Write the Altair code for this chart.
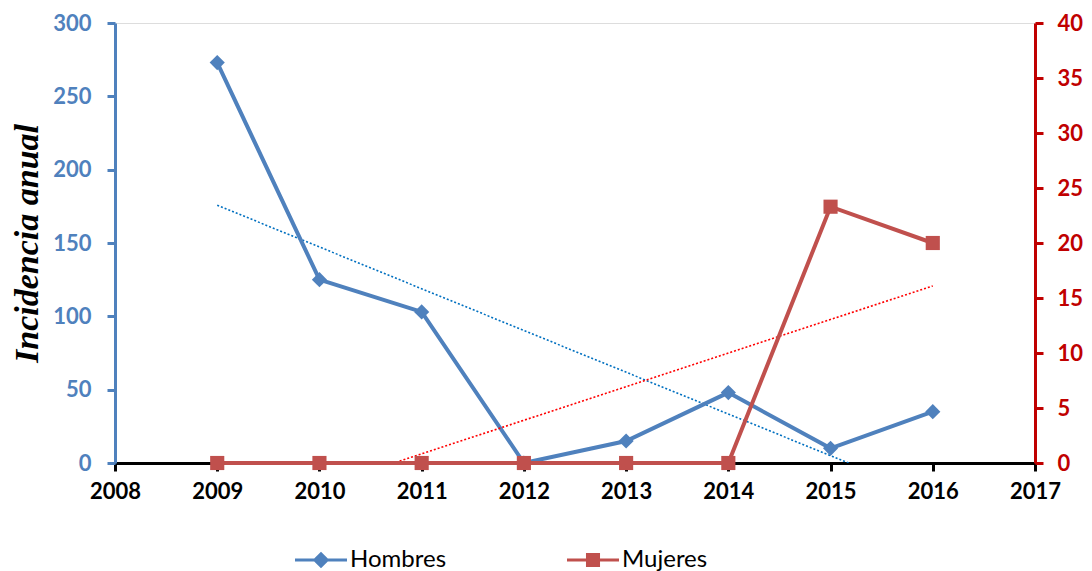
import altair as alt
import pandas as pd

years = [2009, 2010, 2011, 2012, 2013, 2014, 2015, 2016]
hombres = [273, 125, 103, 0, 15, 48, 10, 35]
mujeres = [0, 0, 0, 0, 0, 0, 23.3, 20]
series = ["Hombres", "Mujeres"]
series_colors = ["#4F81BD", "#C0504D"]
x_ticks = list(range(2008, 2018))
left_ticks = [0, 50, 100, 150, 200, 250, 300]
right_ticks = [0, 5, 10, 15, 20, 25, 30, 35, 40]

df = pd.DataFrame({"year": years, "hombres": hombres, "mujeres": mujeres})

FONT = "Lato"
BLUE = "#4F81BD"
RED_AX = "#C00000"

x_enc = alt.X(
    "year:Q",
    scale=alt.Scale(domain=[2008, 2017], nice=False, zero=False),
    axis=alt.Axis(
        values=x_ticks, format="d", title=None, grid=False,
        labelFont=FONT, labelFontWeight="bold", labelFontSize=22, labelColor="black",
        labelPadding=10, labelFlush=False,
        domainColor="black", domainWidth=3, tickColor="black", tickWidth=3, tickSize=8,
    ),
)

yL = alt.Y(
    "hombres:Q",
    scale=alt.Scale(domain=[0, 300], nice=False),
    axis=alt.Axis(
        orient="left", values=left_ticks, grid=False,
        title="Incidencia anual", titleFont="Liberation Serif", titleFontStyle="italic",
        titleFontWeight="bold", titleFontSize=34, titleColor="black", titlePadding=8,
        labelFont=FONT, labelFontWeight="bold", labelFontSize=22, labelColor=BLUE,
        labelPadding=16,
        domainColor=BLUE, domainWidth=3, tickColor=BLUE, tickWidth=3, tickSize=8,
    ),
)

yR = alt.Y(
    "mujeres:Q",
    scale=alt.Scale(domain=[0, 40], nice=False),
    axis=alt.Axis(
        orient="right", values=right_ticks, grid=False, title=None,
        labelFont=FONT, labelFontWeight="bold", labelFontSize=22, labelColor=RED_AX,
        labelPadding=14,
        domainColor=RED_AX, domainWidth=3, tickColor=RED_AX, tickWidth=3, tickSize=8,
    ),
)

base = alt.Chart(df)

h_trend = base.transform_regression(
    "year", "hombres", method="linear", extent=[2009, 2016]
).mark_line(color="#0070C0", strokeDash=[2, 2], strokeWidth=1.6, clip=True).encode(x=x_enc, y=yL)
h_line = base.mark_line(color=BLUE, strokeWidth=4).encode(x=x_enc, y=yL)
h_pts = base.mark_point(shape="diamond", filled=True, size=230, color=BLUE, opacity=1).encode(x=x_enc, y=yL)

# legend-only layer (no data rows, explicit domain)
leg_paths = [
    "M-1,-0.055 L1,-0.055 L1,0.055 L-1,0.055 Z M0,-0.32 L0.32,0 L0,0.32 L-0.32,0 Z",
    "M-1,-0.055 L1,-0.055 L1,0.055 L-1,0.055 Z M-0.27,-0.27 L0.27,-0.27 L0.27,0.27 L-0.27,0.27 Z",
]
legend_props = dict(
    orient="none", legendX=180, legendY=511, direction="horizontal", title=None,
    labelFont=FONT, labelFontSize=24, labelColor="black", labelOffset=3,
    symbolSize=2704, symbolStrokeWidth=0, columnPadding=120,
)
leg = alt.Chart(df).transform_filter("false").mark_point(
    filled=True, size=2704, opacity=1, strokeWidth=0
).encode(
    color=alt.Color("serie:N", scale=alt.Scale(domain=series, range=series_colors),
                    legend=alt.Legend(**legend_props)),
    shape=alt.Shape("serie:N", scale=alt.Scale(domain=series, range=leg_paths),
                    legend=alt.Legend(**legend_props)),
)

layer_h = alt.layer(h_trend, h_line, h_pts, leg)

m_trend = base.transform_regression(
    "year", "mujeres", method="linear", extent=[2009, 2016]
).mark_line(color="#FF0000", strokeDash=[2, 2], strokeWidth=1.6, clip=True).encode(x=x_enc, y=yR)
m_line = base.mark_line(color="#C0504D", strokeWidth=4).encode(x=x_enc, y=yR)
m_pts = base.mark_point(shape="square", filled=True, size=200, color="#C0504D", opacity=1).encode(x=x_enc, y=yR)

layer_m = alt.layer(m_trend, m_line, m_pts)

chart = alt.layer(layer_h, layer_m).resolve_scale(y="independent").properties(
    width=920, height=440,
    autosize=alt.AutoSizeParams(type="none"),
    padding={"left": 107, "top": 15, "right": 49, "bottom": 120},
).configure_view(stroke=None).configure(background="white")

chart.save("out.html", embed_options={"renderer": "svg", "actions": False})
